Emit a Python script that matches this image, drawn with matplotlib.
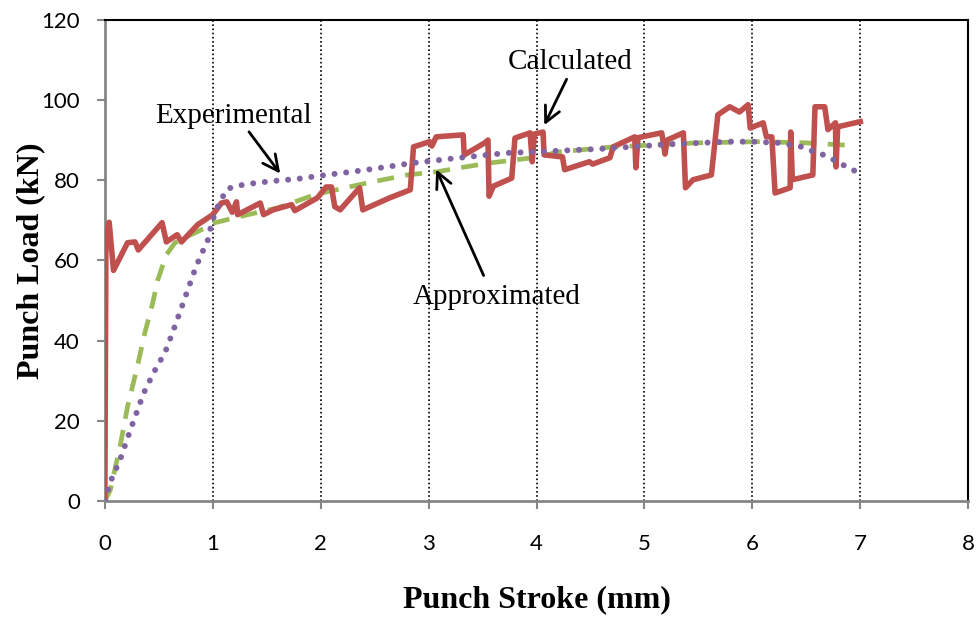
import matplotlib.pyplot as plt

# datos
calc_x = [0, 0.01, 0.04, 0.08, 0.21, 0.28, 0.31, 0.53, 0.57, 0.67, 0.71, 0.86, 1.0, 1.08, 1.13, 1.18,
          1.22, 1.23, 1.44, 1.47, 1.56, 1.73, 1.76, 1.97, 2.05, 2.10, 2.13, 2.18, 2.36, 2.39, 2.64, 2.83,
          2.86, 3.01, 3.03, 3.07, 3.32, 3.33, 3.52, 3.55, 3.56, 3.60, 3.77, 3.80, 3.94, 3.96, 3.98, 4.06,
          4.07, 4.24, 4.26, 4.49, 4.52, 4.68, 4.71, 4.91, 4.92, 4.94, 5.16, 5.19, 5.21, 5.36, 5.38, 5.45,
          5.62, 5.68, 5.79, 5.88, 5.96, 5.98, 6.10, 6.13, 6.18, 6.21, 6.35, 6.355, 6.37, 6.56, 6.58, 6.67,
          6.70, 6.77, 6.775, 6.79, 7.0]
calc_y = [0, 66, 69.5, 57.5, 64.4, 64.6, 62.6, 69.4, 64.6, 66.4, 64.6, 68.9, 71.4, 74.3, 74.6, 72,
          74.6, 71.4, 74.3, 71.4, 72.6, 73.9, 72.4, 75.6, 78.3, 78.3, 73.4, 72.6, 78.1, 72.6, 75.6, 77.6,
          88.3, 89.6, 88.5, 90.8, 91.3, 86.3, 89.3, 90, 76, 78.5, 80.5, 90.5, 91.8, 84.6, 91.5, 92,
          86.3, 85.8, 82.6, 84.6, 84, 85.6, 88.3, 90.8, 83.1, 90.6, 91.8, 86.5, 90, 91.8, 78.1, 80.1,
          81.3, 96.3, 98.3, 97, 98.8, 93, 94.3, 90.8, 90.8, 76.8, 78.1, 92, 80.1, 81.3, 98.3, 98.3,
          92.6, 94.3, 83.3, 93.3, 94.6]

approx_x = [0, 0.05, 0.14, 0.21, 0.30, 0.37, 0.44, 0.49, 0.57, 0.65, 0.76, 0.93, 1.02, 1.2, 1.6, 1.76,
            1.96, 2.43, 2.80, 3.08, 3.29, 3.57, 4.03, 4.19, 4.71, 5.49, 6.07, 6.5, 6.95]
approx_y = [0, 2.7, 13.5, 23.5, 33.4, 41.9, 49, 55.1, 61.4, 64.4, 65.9, 68.1, 69.4, 70.6, 73.1, 74.6,
            76.5, 79.3, 81.3, 82.1, 83.1, 84.3, 85.8, 87, 88.3, 89.3, 89.6, 89.3, 88.6]

exp_x = [0, 0.05, 0.09, 0.14, 0.21, 0.28, 0.36, 0.45, 0.56, 0.63, 0.71, 0.84, 0.90, 0.95, 0.97, 1.0,
         1.04, 1.13, 1.23, 1.34, 1.56, 1.78, 1.99, 2.2, 2.43, 2.86, 3.29, 3.73, 3.94, 4.59, 5.26, 5.79,
         6.0, 6.24, 6.35, 6.46, 6.55, 6.66, 6.75, 6.84, 6.95]
exp_y = [0, 4.7, 7.2, 10.2, 15.7, 21, 26.9, 31.9, 37.2, 42.2, 48.2, 58.1, 61.9, 64.6, 67.1, 70.1,
         73.1, 77.8, 78.6, 79.1, 79.8, 80.3, 81.1, 81.8, 82.6, 84.3, 85.6, 86.8, 87, 87.8, 89, 89.6,
         89.6, 89.3, 88.8, 88.3, 87.3, 86.3, 85.1, 83.8, 82.3]

x_ticks = [0, 1, 2, 3, 4, 5, 6, 7, 8]
y_ticks = [0, 20, 40, 60, 80, 100, 120]

fig = plt.figure(figsize=(9.8, 6.17), dpi=100)
ax = fig.add_axes([0.107, 0.188, 0.881, 0.780])

for xv in x_ticks[1:-1]:
    ax.axvline(xv, color='black', lw=1.2, ls=(0, (1, 1.5)), zorder=1)

ax.plot(calc_x, calc_y, color='#C0504D', lw=4, solid_joinstyle='round', zorder=3)
ax.plot(approx_x, approx_y, color='#9BBB59', lw=3.4, ls=(0, (3.6, 2.4)), zorder=2)
ax.plot(exp_x, exp_y, color='#8064A2', lw=4.3, ls=(0, (0.01, 1.95)), dash_capstyle='round', zorder=4)

ax.set_xlim(0, 8)
ax.set_ylim(0, 120)
ax.set_xticks(x_ticks)
ax.set_yticks(y_ticks)

for s in ['left', 'bottom']:
    ax.spines[s].set_color('#868686')
    ax.spines[s].set_linewidth(2)
for s in ['top', 'right']:
    ax.spines[s].set_color('black')
    ax.spines[s].set_linewidth(1.5)
ax.tick_params(color='#868686', width=1.5, length=6, labelsize=16, pad=18)
ax.tick_params(axis='y', pad=12)
for lab in ax.get_xticklabels() + ax.get_yticklabels():
    lab.set_family('Lato')

ax.set_xlabel('Punch Stroke (mm)', family='Liberation Serif', weight='bold', fontsize=23, labelpad=22)
ax.set_ylabel('Punch Load (kN)', family='Liberation Serif', weight='bold', fontsize=23, labelpad=-3)

flecha = dict(arrowstyle='->', color='black', lw=2, mutation_scale=28)
ax.annotate('', xy=(1.64, 81.1), xytext=(1.32, 92.6), arrowprops=flecha)
ax.annotate('', xy=(4.06, 93.1), xytext=(4.29, 105.8), arrowprops=flecha)
ax.annotate('', xy=(3.06, 83.3), xytext=(3.52, 55.6), arrowprops=flecha)
ax.text(1.19, 96.1, 'Experimental', family='Liberation Serif', fontsize=21, ha='center', va='center')
ax.text(4.31, 109.5, 'Calculated', family='Liberation Serif', fontsize=21, ha='center', va='center')
ax.text(3.63, 50.9, 'Approximated', family='Liberation Serif', fontsize=21, ha='center', va='center')

plt.savefig('out.png', dpi=100)
